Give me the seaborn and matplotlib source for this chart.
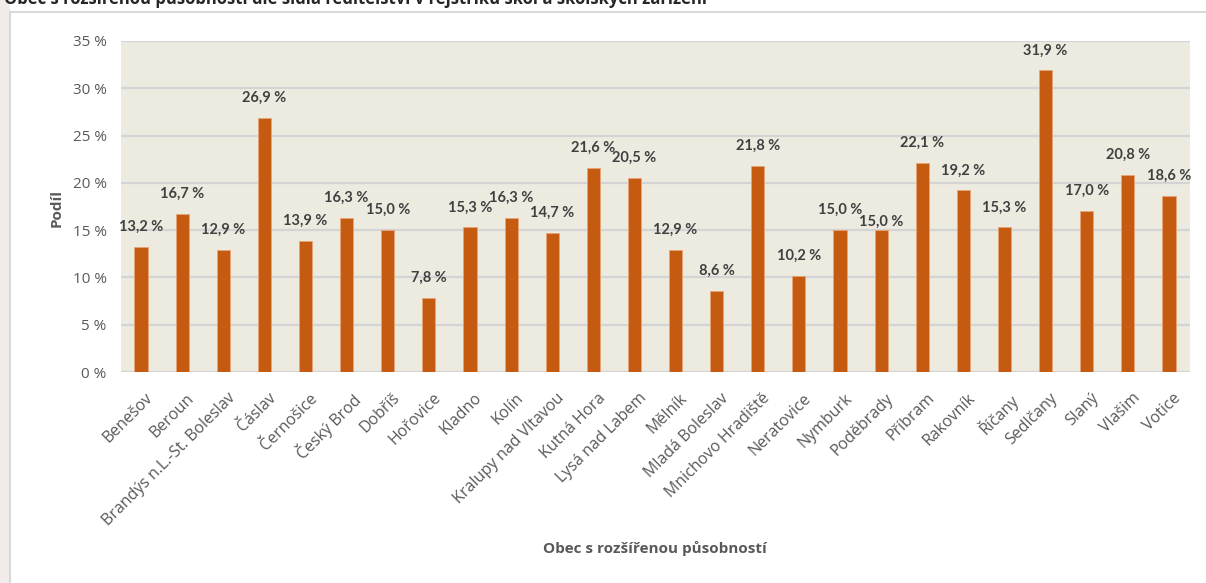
import matplotlib
matplotlib.use("Agg")
import matplotlib.pyplot as plt
import matplotlib.transforms as mtransforms
import seaborn as sns
import pandas as pd
from matplotlib.patches import Rectangle
from matplotlib.lines import Line2D

categories = ["Benešov", "Beroun", "Brandýs n.L.-St. Boleslav", "Čáslav", "Černošice",
              "Český Brod", "Dobříš", "Hořovice", "Kladno", "Kolín",
              "Kralupy nad Vltavou", "Kutná Hora", "Lysá nad Labem", "Mělník",
              "Mladá Boleslav", "Mnichovo Hradiště", "Neratovice", "Nymburk",
              "Poděbrady", "Příbram", "Rakovník", "Říčany", "Sedlčany", "Slaný",
              "Vlašim", "Votice"]
values = [13.2, 16.7, 12.9, 26.9, 13.9, 16.3, 15.0, 7.8, 15.3, 16.3, 14.7, 21.6, 20.5,
          12.9, 8.6, 21.8, 10.2, 15.0, 15.0, 22.1, 19.2, 15.3, 31.9, 17.0, 20.8, 18.6]
y_ticks = [0, 5, 10, 15, 20, 25, 30, 35]

title = "Obec s rozšířenou působností dle sídla ředitelství v rejstříku škol a školských zařízení"
x_title = "Obec s rozšířenou působností"
y_title = "Podíl"

df = pd.DataFrame({"obec": categories, "podil": values})

sns.set_theme(style="white")
plt.rcParams["font.family"] = ["Open Sans", "DejaVu Sans"]

W, H = 1206, 583
fig = plt.figure(figsize=(W / 100, H / 100), dpi=100)
fig.patch.set_facecolor("white")

# faint background strip on the left and the outer frame
fig.patches.append(Rectangle((0, 0), 10 / W, 1, transform=fig.transFigure,
                             facecolor="#F1ECEA", edgecolor="none", zorder=0))
fig.lines.append(Line2D([10 / W, 10 / W], [0, 1 - 12 / H], transform=fig.transFigure,
                        color="#D9D9D9", lw=1.5))
fig.lines.append(Line2D([10 / W, 1], [1 - 12 / H, 1 - 12 / H], transform=fig.transFigure,
                        color="#D9D9D9", lw=1.5))

left, right = 120.5 / W, 1189.5 / W
bottom, top = 1 - 372 / H, 1 - 41 / H
ax = fig.add_axes([left, bottom, right - left, top - bottom])
ax.set_facecolor("#EDEAE0")

sns.barplot(data=df, x="obec", y="podil", color="#C55A11", width=0.32,
            saturation=1, edgecolor="#E9A477", linewidth=0.6, ax=ax, zorder=3)

ax.set_ylim(0, 35)
ax.set_yticks(y_ticks)
ax.set_yticklabels([f"{t} %" for t in y_ticks], color="#595959", fontsize=11)
ax.grid(axis="y", color="#D4D4D4", lw=1.6, zorder=0)
ax.set_axisbelow(True)
for s in ax.spines.values():
    s.set_visible(False)
ax.tick_params(axis="x", length=0, pad=13)
ax.tick_params(axis="y", length=0, pad=10)

ax.set_xticks(range(len(categories)))
ax.set_xticklabels(categories, rotation=45, ha="right", rotation_mode="anchor",
                   color="#595959", fontsize=11.5)
shift = mtransforms.ScaledTranslation(4 / 100, 0, fig.dpi_scale_trans)
for lbl in ax.get_xticklabels():
    lbl.set_transform(lbl.get_transform() + shift)

label_offsets = {"Poděbrady": 5.8}
for patch, name, v in zip(ax.patches, categories, values):
    cx = patch.get_x() + patch.get_width() / 2
    off = label_offsets.get(name, 14.4)
    ax.annotate(f"{v:.1f} %".replace(".", ","), (cx, v), xytext=(0, off),
                textcoords="offset points", ha="center", va="center",
                fontsize=10.5, fontweight="bold", color="#404040",
                family=["Lato", "DejaVu Sans"], zorder=5)

ax.set_xlabel("")
ax.set_ylabel("")
fig.text(57 / W, 1 - 208 / H, y_title, rotation=90, ha="center", va="center",
         fontsize=11, fontweight="bold", color="#595959")
fig.text(655 / W, 1 - 549 / H, x_title, ha="center", va="center",
         fontsize=11, fontweight="bold", color="#595959")
fig.text(4 / W, 1 - 4.5 / H, title, ha="left", va="baseline", fontsize=12,
         fontweight="bold", color="#262626")

fig.savefig("out.png", dpi=100)
